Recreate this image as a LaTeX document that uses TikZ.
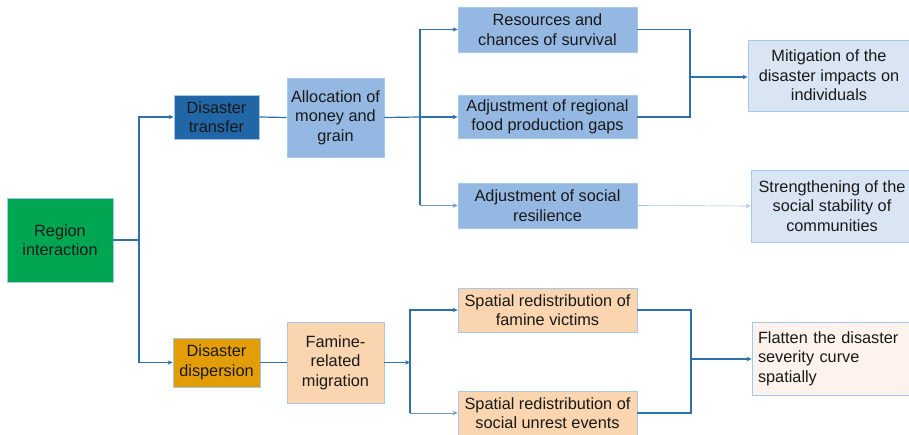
\documentclass[tikz,border=0pt]{standalone}
\usepackage{fontspec}
\setmainfont{Liberation Sans}
\usetikzlibrary{arrows.meta}
\definecolor{rgreen}{HTML}{00A651}
\definecolor{dblue}{HTML}{2166A6}
\definecolor{lblue}{HTML}{95B8E3}
\definecolor{pblue}{HTML}{DAE5F3}
\definecolor{dorange}{HTML}{E39D06}
\definecolor{peach}{HTML}{FAD5B0}
\definecolor{pale}{HTML}{FDF3EC}
\definecolor{bordc}{HTML}{A6C8E8}
\definecolor{linec}{HTML}{2E6FAE}
\definecolor{linel}{HTML}{A9C4E2}
\begin{document}
\begin{tikzpicture}[x=1pt,y=-1pt,
  box/.style={draw=bordc, line width=0.8pt, inner sep=0pt, align=center,
    font=\fontsize{16.3}{19.5}\selectfont, text=black!90},
  conn/.style={draw=linec, line width=1.2pt},
  connl/.style={draw=linec!70, line width=0.8pt},
  connt/.style={draw=linel, line width=0.6pt},
  arr/.style={-{Stealth[length=5pt,width=4.5pt]}}]
\useasboundingbox (0,0) rectangle (909,435);

\node[box, fill=rgreen, minimum width=106pt, minimum height=84pt] (ri) at (60,240) {Region\\interaction};
\node[box, fill=dblue, minimum width=85pt, minimum height=44pt] (dt) at (216.5,117) {Disaster\\transfer};
\node[box, fill=lblue, minimum width=97pt, minimum height=79pt] (alloc) at (335.5,117.5) {Allocation of\\money and\\grain};
\node[box, fill=lblue, minimum width=179pt, minimum height=45pt] (res) at (547.5,29.5) {Resources and\\chances of survival};
\node[box, fill=lblue, minimum width=179pt, minimum height=43pt] (reg) at (547.5,117) {Adjustment of regional\\food production gaps};
\node[box, fill=lblue, minimum width=179pt, minimum height=45pt] (soc) at (547.5,205.5) {Adjustment of social\\resilience};
\node[box, fill=pblue, minimum width=162pt, minimum height=71pt] (mit) at (829,75.5) {Mitigation of the\\disaster impacts on\\individuals};
\node[box, fill=pblue, minimum width=162pt, minimum height=72pt] (str) at (832,206) {Strengthening of the\\social stability of\\communities};
\node[box, fill=dorange, minimum width=87pt, minimum height=49pt] (dd) at (216.5,362.5) {Disaster\\dispersion};
\node[box, fill=peach, minimum width=97pt, minimum height=81pt] (fam) at (335.5,362.5) {Famine-\\related\\migration};
\node[box, fill=peach, minimum width=179pt, minimum height=44pt] (sf) at (547.5,310) {Spatial redistribution of\\famine victims};
\node[box, fill=peach, minimum width=179pt, minimum height=44pt] (su) at (547.5,413) {Spatial redistribution of\\social unrest  events};
\node[box, fill=pale, minimum width=162pt, minimum height=73pt, text width=150pt, inner xsep=6pt, align=left] (fl) at (833,358.5) {Flatten the disaster\\severity curve\\spatially};

% connectors
\coordinate (j1) at (139,240);
\draw[conn] (ri.east) -- (j1);
\draw[conn,arr] (j1) |- (dt.west);
\draw[conn,arr] (j1) |- (dd.west);
\draw[conn] (dt.east) -- (alloc.west);

\coordinate (j2) at (420,117);
\draw[conn] (alloc.east) -- (j2);
\draw[conn,arr] (j2) |- (res.west);
\draw[conn,arr] (j2) -- (reg.west);
\draw[conn] (j2) -- (420,205.5);
\draw[connl,arr] (420,205.5) -- (soc.west);

\coordinate (j3) at (690,77);
\draw[conn] (res.east) -| (j3);
\draw[conn] (reg.east) -| (j3);
\draw[conn,arr] (j3) -- (mit.west |- j3);
\draw[connt,arr] (soc.east) -- (str.west);

\draw[conn] (dd.east) -- (fam.west);
\coordinate (j4) at (410,362.5);
\draw[conn,arr] (fam.east) -- (j4);
\draw[conn,arr] (j4) |- (sf.west);
\draw[conn] (j4) -- (410,413);
\draw[connl,arr] (410,413) -- (su.west);

\coordinate (j5) at (691,359);
\draw[conn] (sf.east) -| (j5);
\draw[conn] (su.east) -| (j5);
\draw[conn,arr] (j5) -- (fl.west |- j5);
\end{tikzpicture}
\end{document}
